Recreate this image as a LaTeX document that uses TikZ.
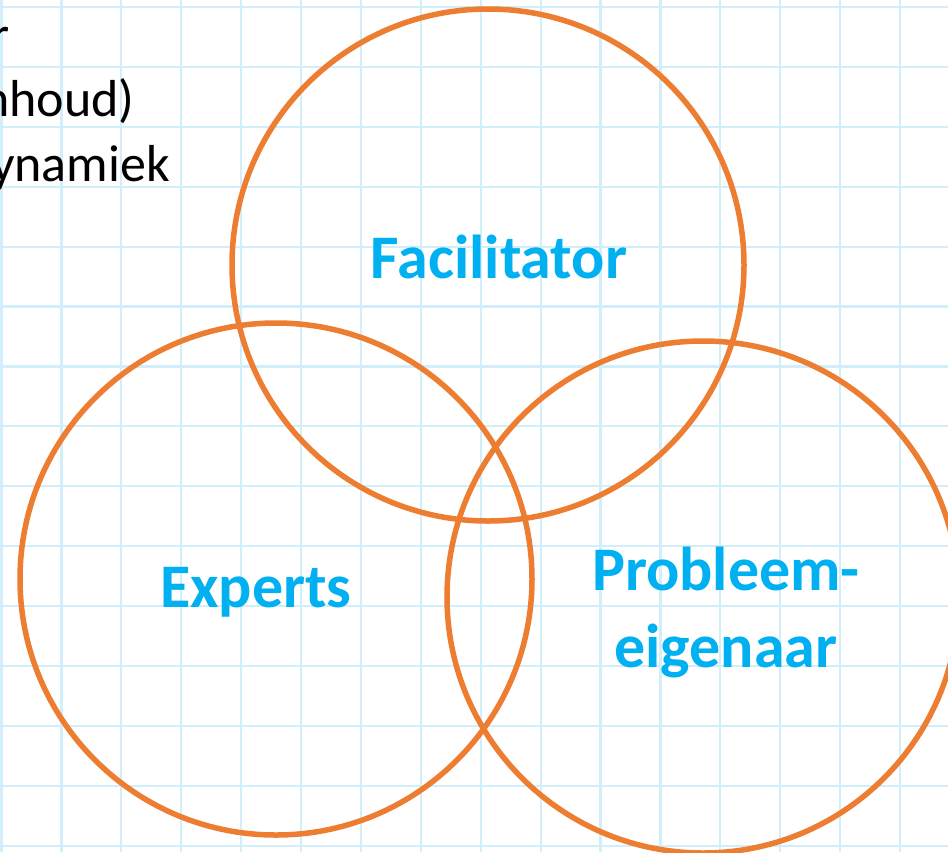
\documentclass[tikz,border=0pt]{standalone}
\usepackage{fontspec}
\setmainfont{Carlito}
\usepackage{tikz}
\definecolor{ringcol}{RGB}{237,125,49}
\definecolor{rolecol}{RGB}{0,176,240}
\definecolor{gridcol}{RGB}{208,239,250}
\tikzstyle{ring}=[circle,draw=ringcol,line width=5.5pt,minimum size=512pt,inner sep=0pt]
\tikzstyle{role}=[text=rolecol,font=\fontsize{62}{77}\selectfont\bfseries,inner sep=0pt,anchor=base]
\tikzstyle{note}=[font=\fontsize{52}{64}\selectfont,inner sep=0pt,anchor=base east]
\newcommand{\gridstep}{59.9}

\begin{document}
\begin{tikzpicture}[x=1pt,y=-1pt]
\useasboundingbox (0,0) rectangle (948,852);
\clip (0,0) rectangle (948,852);
\fill[white] (0,0) rectangle (948,852);

% paper grid
\foreach \i in {0,...,15}
  \draw[gridcol, line width=2.2pt] ({1.5+\gridstep*\i},0) -- ({1.5+\gridstep*\i},852);
\foreach \j in {0,...,14}
  \draw[gridcol, line width=2.2pt] (0,{7+\gridstep*\j}) -- (948,{7+\gridstep*\j});

% cut-off list at the top left
\node[note] (line1) at (10,52) {r};
\node[note] (line2) at (135,116) {nhoud)};
\node[note] (line3) at (170,181) {ynamiek};

\node[ring] (fac) at (488,265) {};
\node[ring] (exp) at (276,579) {};
\node[ring] (prob) at (703,597) {};

\node[role] (facname) at (499,278) {Facilitator};
\node[role] (expname) at (256,607) {Experts};
\node[role,align=center] (probname) at (726,667) {Probleem-\\eigenaar};

\end{tikzpicture}
\end{document}
